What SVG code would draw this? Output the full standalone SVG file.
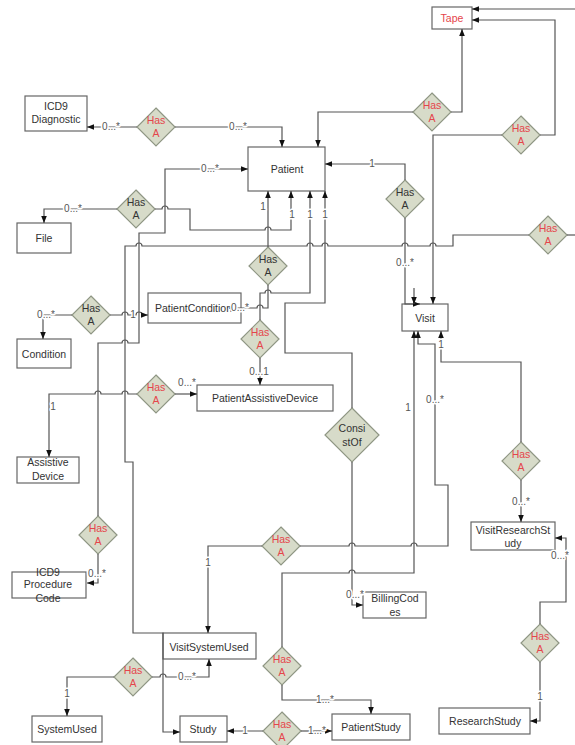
<svg xmlns="http://www.w3.org/2000/svg" width="575" height="745" viewBox="0 0 575 745">
<style>
.b{fill:#fff;stroke:#666;stroke-width:1.2}
.d{fill:#d7dbc9;stroke:#8f9684;stroke-width:1.2}
.t{font-family:"Liberation Sans",Arial,sans-serif;font-size:10.5px;fill:#333;text-anchor:middle}
.r{fill:#e5454b}
.c{fill:none;stroke:#555;stroke-width:1.2}
.a{marker-end:url(#ah)}
.l{font-family:"Liberation Sans",Arial,sans-serif;font-size:10px;fill:#555;text-anchor:middle;stroke:#fff;stroke-width:3px;paint-order:stroke;stroke-linejoin:round}
</style>
<defs>
<marker id="ah" viewBox="0 0 10 10" refX="10" refY="5" markerWidth="7" markerHeight="7" markerUnits="userSpaceOnUse" orient="auto"><path d="M0,1 L10,5 L0,9 z" fill="#111"/></marker>
</defs>
<rect width="575" height="745" fill="#fff"/>

<g id="tape"><rect class="b" x="432" y="7" width="40" height="22"/><text class="t r" x="452" y="22">Tape</text></g>
<g id="icd9diag"><rect class="b" x="25" y="96" width="62" height="35"/><text class="t" x="56" y="110">ICD9</text><text class="t" x="56" y="123">Diagnostic</text></g>
<g id="patient"><rect class="b" x="248" y="147" width="77" height="44"/><text class="t" x="287" y="173">Patient</text></g>
<g id="file"><rect class="b" x="17" y="223" width="54" height="30"/><text class="t" x="44" y="242">File</text></g>
<g id="condition"><rect class="b" x="17" y="339" width="54" height="29"/><text class="t" x="44" y="358">Condition</text></g>
<g id="patientcondition"><rect class="b" x="148" y="293" width="93" height="30"/><text class="t" x="155" y="312" style="text-anchor:start">PatientCondition</text></g>
<g id="patientassistivedevice"><rect class="b" x="197" y="385" width="136" height="26"/><text class="t" x="265" y="402">PatientAssistiveDevice</text></g>
<g id="visit"><rect class="b" x="402" y="304" width="46" height="27"/><text class="t" x="425" y="322">Visit</text></g>
<g id="assistivedevice"><rect class="b" x="17" y="457" width="62" height="26"/><text class="t" x="48" y="466">Assistive</text><text class="t" x="48" y="480">Device</text></g>
<g id="icd9proc"><rect class="b" x="12" y="572" width="74" height="26"/><text class="t" x="48" y="576">ICD9</text><text class="t" x="48" y="588">Procedure</text><text class="t" x="48" y="602">Code</text></g>
<g id="visitsystemused"><rect class="b" x="163" y="633" width="93" height="26"/><text class="t" x="209" y="651">VisitSystemUsed</text></g>
<g id="systemused"><rect class="b" x="32" y="716" width="70" height="26"/><text class="t" x="67" y="733">SystemUsed</text></g>
<g id="study"><rect class="b" x="180" y="716" width="47" height="26"/><text class="t" x="203" y="733">Study</text></g>
<g id="patientstudy"><rect class="b" x="332" y="714" width="78" height="26"/><text class="t" x="371" y="731">PatientStudy</text></g>
<g id="billingcodes"><rect class="b" x="363" y="592" width="63" height="26"/><text class="t" x="395" y="602">BillingCod</text><text class="t" x="395" y="616">es</text></g>
<g id="visitresearchstudy"><rect class="b" x="471" y="522" width="84" height="28"/><text class="t" x="513" y="534">VisitResearchSt</text><text class="t" x="513" y="547">udy</text></g>
<g id="researchstudy"><rect class="b" x="439" y="708" width="91" height="26"/><text class="t" x="485" y="725">ResearchStudy</text></g>

<g id="hasa-icd9diag"><polygon class="d" points="156,108 175,127 156,146 137,127"/><text class="t r" x="156" y="124">Has</text><text class="t r" x="156" y="137">A</text></g>
<g id="hasa-tape1"><polygon class="d" points="432,93 451,112 432,131 413,112"/><text class="t r" x="432" y="109">Has</text><text class="t r" x="432" y="122">A</text></g>
<g id="hasa-tape2"><polygon class="d" points="521,116 540,135 521,154 502,135"/><text class="t r" x="521" y="132">Has</text><text class="t r" x="521" y="145">A</text></g>
<g id="hasa-file"><polygon class="d" points="136,190 155,209 136,228 117,209"/><text class="t" x="136" y="206">Has</text><text class="t" x="136" y="219">A</text></g>
<g id="hasa-visit"><polygon class="d" points="405,180 424,199 405,218 386,199"/><text class="t" x="405" y="196">Has</text><text class="t" x="405" y="209">A</text></g>
<g id="hasa-right"><polygon class="d" points="548,216 567,235 548,254 529,235"/><text class="t r" x="548" y="232">Has</text><text class="t r" x="548" y="245">A</text></g>
<g id="hasa-pc"><polygon class="d" points="268,247 287,266 268,285 249,266"/><text class="t" x="268" y="263">Has</text><text class="t" x="268" y="276">A</text></g>
<g id="hasa-pad"><polygon class="d" points="260,320 279,339 260,358 241,339"/><text class="t r" x="260" y="336">Has</text><text class="t r" x="260" y="349">A</text></g>
<g id="hasa-cond"><polygon class="d" points="91,296 110,315 91,334 72,315"/><text class="t" x="91" y="312">Has</text><text class="t" x="91" y="325">A</text></g>
<g id="hasa-ad"><polygon class="d" points="156,375 175,394 156,413 137,394"/><text class="t r" x="156" y="391">Has</text><text class="t r" x="156" y="404">A</text></g>
<g id="consistof"><polygon class="d" points="352,408 379,435 352,462 325,435"/><text class="t" x="352" y="432">Consi</text><text class="t" x="352" y="446">stOf</text></g>
<g id="hasa-vrs"><polygon class="d" points="521,442 540,461 521,480 502,461"/><text class="t r" x="521" y="458">Has</text><text class="t r" x="521" y="471">A</text></g>
<g id="hasa-icdp"><polygon class="d" points="98,516 117,535 98,554 79,535"/><text class="t r" x="98" y="532">Has</text><text class="t r" x="98" y="545">A</text></g>
<g id="hasa-vsu"><polygon class="d" points="281,527 300,546 281,565 262,546"/><text class="t r" x="281" y="543">Has</text><text class="t r" x="281" y="556">A</text></g>
<g id="hasa-su"><polygon class="d" points="133,658 152,677 133,696 114,677"/><text class="t r" x="133" y="674">Has</text><text class="t r" x="133" y="687">A</text></g>
<g id="hasa-ps"><polygon class="d" points="282,647 301,666 282,685 263,666"/><text class="t r" x="282" y="663">Has</text><text class="t r" x="282" y="676">A</text></g>
<g id="hasa-sps"><polygon class="d" points="282,712 301,731 282,750 263,731"/><text class="t r" x="282" y="728">Has</text><text class="t r" x="282" y="741">A</text></g>
<g id="hasa-rs"><polygon class="d" points="540,624 559,643 540,662 521,643"/><text class="t r" x="540" y="640">Has</text><text class="t r" x="540" y="653">A</text></g>

<g id="connectors">
<path class="c a" d="M137,127 H87"/>
<path class="c a" d="M175,127 H282 V147"/>
<path class="c a" d="M413,112 H318 V147"/>
<path class="c a" d="M451,112 H462 V29"/>
<path class="c a" d="M540,135 H555 V20 H472"/>
<path class="c a" d="M502,135 H433 V304"/>
<path class="c a" d="M575,9 H472"/>
<path class="c a" d="M405,180 V164 H325"/>
<path class="c a" d="M405,218 V304 H420"/>
<path class="c a" d="M414,288 V304"/>
<path class="c" d="M567,235 H575"/>
<path class="c a" d="M529,235 H453 V246 H436 a3,3 0 0 0 -6,0 H408 a3,3 0 0 0 -6,0 H328 a3,3 0 0 0 -6,0 H313 a3,3 0 0 0 -6,0 H142 a3,3 0 0 0 -6,0 H125 V462 H133 V633 H163 V732 H180"/>
<path class="c a" d="M117,209 H44 V223"/>
<path class="c a" d="M155,209 H162 a3,3 0 0 1 6,0 H190 V230 H265 a3,3 0 0 1 6,0 H291 V191"/>
<path class="c a" d="M98,516 V343 H122 a3,3 0 0 1 6,0 H139 V233 H165 V169 H248"/>
<path class="c a" d="M98,554 V583 H87"/>
<path class="c a" d="M268,247 V191"/>
<path class="c a" d="M268,285 V308 H263 a3,3 0 0 0 -6,0 H229"/>
<path class="c a" d="M260,320 V293 H265 a3,3 0 0 1 6,0 H310 V191"/>
<path class="c a" d="M260,358 V385"/>
<path class="c a" d="M352,408 V353 H285 V303 H325 V191"/>
<path class="c a" d="M352,462 V605 H363"/>
<path class="c a" d="M72,315 H43 V339"/>
<path class="c a" d="M110,315 H122 a3,3 0 0 1 6,0 H136 a3,3 0 0 1 6,0 H148"/>
<path class="c a" d="M137,394 H128 a3,3 0 0 0 -6,0 H101 a3,3 0 0 0 -6,0 H49 V457"/>
<path class="c a" d="M175,394 H197"/>
<path class="c a" d="M521,442 V362 H441 V331"/>
<path class="c a" d="M521,480 V522"/>
<path class="c a" d="M300,546 H349 a3,3 0 0 1 6,0 H411 a3,3 0 0 1 6,0 H448 V485 H435 V344 H418 V331"/>
<path class="c a" d="M262,546 H208 V633"/>
<path class="c a" d="M282,647 V573 H349 a3,3 0 0 1 6,0 H414 V331"/>
<path class="c a" d="M282,685 V700 H371 V714"/>
<path class="c a" d="M263,731 H227"/>
<path class="c a" d="M301,731 H332"/>
<path class="c a" d="M114,677 H67 V716"/>
<path class="c a" d="M152,677 H160 a3,3 0 0 1 6,0 H209 V659"/>
<path class="c a" d="M540,624 V602 H566 V538 H555"/>
<path class="c a" d="M540,662 V721 H530"/>
</g>

<g id="labels">
<text class="l" x="111" y="130">0...*</text>
<text class="l" x="238" y="130">0...*</text>
<text class="l" x="210" y="172">0...*</text>
<text class="l" x="372" y="167">1</text>
<text class="l" x="405" y="266">0...*</text>
<text class="l" x="73" y="212">0...*</text>
<text class="l" x="263" y="210">1</text>
<text class="l" x="292" y="218">1</text>
<text class="l" x="310" y="218">1</text>
<text class="l" x="325" y="218">1</text>
<text class="l" x="46" y="318">0...*</text>
<text class="l" x="133" y="318">1</text>
<text class="l" x="240" y="311">0...*</text>
<text class="l" x="259" y="375">0...1</text>
<text class="l" x="53" y="410">1</text>
<text class="l" x="187" y="386">0...*</text>
<text class="l" x="441" y="348">1</text>
<text class="l" x="521" y="505">0...*</text>
<text class="l" x="435" y="403">0...*</text>
<text class="l" x="408" y="411">1</text>
<text class="l" x="208" y="566">1</text>
<text class="l" x="355" y="598">0...*</text>
<text class="l" x="97" y="577">0...*</text>
<text class="l" x="67" y="697">1</text>
<text class="l" x="187" y="680">0...*</text>
<text class="l" x="245" y="734">1</text>
<text class="l" x="317" y="734">1...*</text>
<text class="l" x="325" y="703">1...*</text>
<text class="l" x="560" y="559">0...*</text>
<text class="l" x="540" y="700">1</text>
</g>
</svg>
